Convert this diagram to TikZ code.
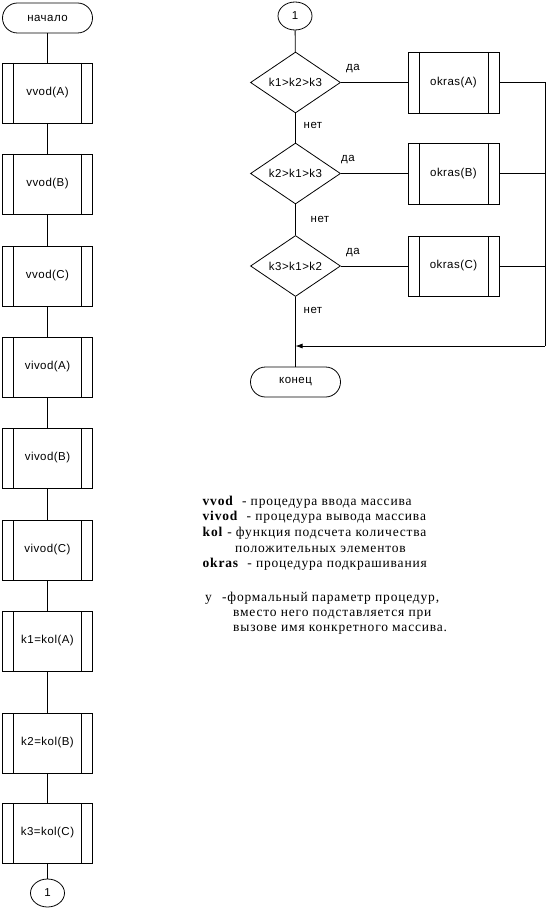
\documentclass[tikz,border=0pt]{standalone}
\usepackage{fontspec}
\setmainfont{Liberation Sans}[LetterSpace=4]
\newfontfamily\serifnote{Liberation Serif}[LetterSpace=6]
\usetikzlibrary{shapes.geometric,arrows.meta}
\begin{document}
\begin{tikzpicture}[x=1pt,y=-1pt,
  every node/.style={font=\fontsize{11.5}{13}\selectfont},
  ln/.style={line width=0.8pt},
  term/.style={draw, line width=0.8pt, rectangle, rounded corners=15pt, minimum width=90pt, minimum height=30pt, inner sep=0pt},
  proc/.style={draw, line width=0.8pt, rectangle, minimum width=90pt, minimum height=60pt, inner sep=0pt,
    path picture={\draw[line width=0.8pt] ([xshift=11pt]path picture bounding box.north west) -- ([xshift=11pt]path picture bounding box.south west);
                  \draw[line width=0.8pt] ([xshift=-11pt]path picture bounding box.north east) -- ([xshift=-11pt]path picture bounding box.south east);}},
  conn/.style={draw, line width=0.8pt, ellipse, minimum width=34pt, minimum height=28pt, inner sep=0pt},
  dec/.style={draw, line width=0.8pt, diamond, aspect=1.47, minimum width=90pt, minimum height=61pt, inner sep=0pt},
  lbl/.style={inner sep=0pt},
  note/.style={inner sep=0pt, anchor=base west, font=\serifnote\fontsize{13.5}{15}\selectfont}
]
\useasboundingbox (0,0) rectangle (557,912);
% left column
\node[term] (start) at (47.5,18) {начало};
\node[proc] (b1) at (47.5,93) {vvod(A)};
\node[proc] (b2) at (47.5,184) {vvod(B)};
\node[proc] (b3) at (47.5,276) {vvod(C)};
\node[proc] (b4) at (47.5,367) {vivod(A)};
\node[proc] (b5) at (47.5,458) {vivod(B)};
\node[proc] (b6) at (47.5,550) {vivod(C)};
\node[proc] (b7) at (47.5,641) {k1=kol(A)};
\node[proc] (b8) at (47.5,743) {k2=kol(B)};
\node[proc] (b9) at (47.5,833) {k3=kol(C)};
\node[conn] (c0) at (47.5,893) {1};
\draw[ln] (start) -- (b1);
\draw[ln] (b1) -- (b2);
\draw[ln] (b2) -- (b3);
\draw[ln] (b3) -- (b4);
\draw[ln] (b4) -- (b5);
\draw[ln] (b5) -- (b6);
\draw[ln] (b6) -- (b7);
\draw[ln] (b7) -- (b8);
\draw[ln] (b8) -- (b9);
\draw[ln] (b9) -- (c0);
% right column
\node[conn] (c1) at (295,16) {1};
\node[dec] (d1) at (295.5,82.5) {k1>k2>k3};
\node[dec] (d2) at (295.5,173.5) {k2>k1>k3};
\node[dec] (d3) at (295.5,266) {k3>k1>k2};
\node[proc, minimum width=91pt, minimum height=61pt] (oA) at (453.5,82.5) {okras(A)};
\node[proc, minimum width=91pt, minimum height=61pt] (oB) at (453.5,173.5) {okras(B)};
\node[proc, minimum width=91pt, minimum height=60pt] (oC) at (453.5,266) {okras(C)};
\node[term] (end) at (295.5,382) {конец};
\coordinate (mR) at (545,346);
\coordinate (mL) at (295.5,346);
\draw[ln] (c1) -- (d1);
\draw[ln] (d1) -- (d2);
\draw[ln] (d2) -- (d3);
\draw[ln] (d3) -- (end);
\draw[ln] (d1) -- (oA);
\draw[ln] (d2) -- (oB);
\draw[ln] (d3) -- (oC);
\draw[ln] (oA.east) -| (mR);
\draw[ln] (oB.east) -- (oB.east -| mR);
\draw[ln] (oC.east) -- (oC.east -| mR);
\draw[ln, -{Latex[length=7pt,width=5pt]}] (mR) -- (mL);
\node[lbl] (y1) at (353,69) {да};
\node[lbl] (y2) at (348,160) {да};
\node[lbl] (y3) at (353,253) {да};
\node[lbl] (n1) at (313,125) {нет};
\node[lbl] (n2) at (320,219) {нет};
\node[lbl] (n3) at (313,310) {нет};
% legend
\node[note] (t1) at (202.5,505) {\textbf{vvod}\ \ - процедура ввода массива};
\node[note] (t2) at (202.5,520.5) {\textbf{vivod}\ \ - процедура вывода массива};
\node[note] (t3) at (202.5,536) {\textbf{kol} - функция подсчета количества};
\node[note] (t4) at (235,552) {положительных элементов};
\node[note] (t5) at (202.5,567) {\textbf{okras}\ \ - процедура подкрашивания};
\node[note] (t6) at (205,601) {у};
\node[note] (t6b) at (222,601) {-формальный параметр процедур,};
\node[note] (t7) at (233,616) {вместо него подставляется при};
\node[note] (t8) at (233,631) {вызове имя конкретного массива.};
\end{tikzpicture}
\end{document}
